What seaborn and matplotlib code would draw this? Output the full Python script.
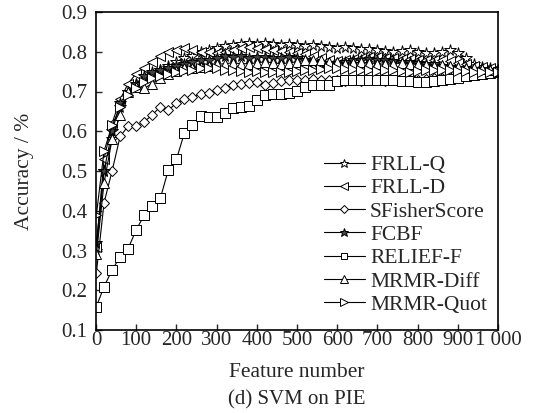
import matplotlib
matplotlib.use("Agg")
import matplotlib.pyplot as plt
import seaborn as sns
import pandas as pd

features = [1, 20, 40, 60, 80, 100, 120, 140, 160, 180, 200, 220, 240, 260, 280, 300, 320,
            340, 360, 380, 400, 420, 440, 460, 480, 500, 520, 540, 560, 580, 600, 620, 640,
            660, 680, 700, 720, 740, 760, 780, 800, 820, 840, 860, 880, 900, 920, 940, 960,
            980, 1000]

frll_q = [0.30, 0.50, 0.58, 0.66, 0.70, 0.72, 0.735, 0.745, 0.755, 0.765, 0.775, 0.785, 0.79,
          0.80, 0.805, 0.81, 0.815, 0.818, 0.82, 0.822, 0.82, 0.822, 0.82, 0.818, 0.82, 0.818,
          0.815, 0.816, 0.814, 0.813, 0.81, 0.812, 0.81, 0.808, 0.806, 0.805, 0.803, 0.80,
          0.802, 0.805, 0.80, 0.796, 0.798, 0.80, 0.804, 0.798, 0.785, 0.77, 0.762, 0.758, 0.755]

frll_d = [0.31, 0.53, 0.62, 0.68, 0.72, 0.745, 0.76, 0.775, 0.79, 0.80, 0.805, 0.81, 0.805,
          0.80, 0.80, 0.798, 0.80, 0.805, 0.81, 0.812, 0.81, 0.808, 0.805, 0.803, 0.80, 0.798,
          0.795, 0.79, 0.785, 0.78, 0.776, 0.778, 0.782, 0.785, 0.787, 0.786, 0.784, 0.785,
          0.783, 0.782, 0.78, 0.779, 0.78, 0.778, 0.776, 0.772, 0.768, 0.765, 0.762, 0.76, 0.758]

sfisher = [0.244, 0.42, 0.50, 0.587, 0.613, 0.613, 0.624, 0.641, 0.662, 0.653, 0.671, 0.68,
           0.687, 0.694, 0.695, 0.704, 0.71, 0.716, 0.72, 0.722, 0.725, 0.716, 0.722, 0.726,
           0.729, 0.73, 0.728, 0.731, 0.729, 0.728, 0.73, 0.727, 0.729, 0.726, 0.728, 0.73,
           0.727, 0.728, 0.726, 0.729, 0.73, 0.731, 0.733, 0.735, 0.737, 0.74, 0.742, 0.745,
           0.747, 0.748, 0.75]

fcbf = [0.32, 0.50, 0.60, 0.67, 0.70, 0.72, 0.74, 0.75, 0.755, 0.76, 0.765, 0.77, 0.775,
        0.778, 0.78, 0.785, 0.79, 0.788, 0.79, 0.785, 0.787, 0.786, 0.784, 0.785, 0.787,
        0.785, 0.78, 0.775, 0.772, 0.77, 0.772, 0.775, 0.778, 0.78, 0.782, 0.78, 0.778,
        0.776, 0.775, 0.773, 0.772, 0.77, 0.768, 0.765, 0.762, 0.76, 0.758, 0.757, 0.756,
        0.755, 0.755]

relief_f = [0.159, 0.209, 0.251, 0.284, 0.305, 0.352, 0.389, 0.413, 0.431, 0.503, 0.529,
            0.596, 0.616, 0.638, 0.637, 0.636, 0.646, 0.658, 0.662, 0.663, 0.678, 0.691,
            0.693, 0.693, 0.697, 0.702, 0.711, 0.716, 0.716, 0.716, 0.727, 0.728, 0.730,
            0.729, 0.728, 0.729, 0.730, 0.728, 0.727, 0.726, 0.725, 0.725, 0.727, 0.729,
            0.731, 0.734, 0.738, 0.742, 0.745, 0.747, 0.750]

mrmr_diff = [0.29, 0.47, 0.58, 0.64, 0.70, 0.712, 0.708, 0.72, 0.735, 0.745, 0.752, 0.758,
             0.76, 0.762, 0.765, 0.768, 0.77, 0.772, 0.77, 0.77, 0.772, 0.775, 0.772, 0.77,
             0.772, 0.775, 0.778, 0.78, 0.778, 0.775, 0.773, 0.77, 0.772, 0.774, 0.772, 0.77,
             0.768, 0.77, 0.772, 0.77, 0.768, 0.766, 0.765, 0.766, 0.764, 0.762, 0.76, 0.758,
             0.756, 0.754, 0.752]

mrmr_quot = [0.39, 0.55, 0.615, 0.66, 0.69, 0.71, 0.725, 0.735, 0.74, 0.745, 0.75, 0.752,
             0.755, 0.758, 0.76, 0.758, 0.755, 0.754, 0.752, 0.75, 0.752, 0.75, 0.75, 0.748,
             0.75, 0.752, 0.753, 0.755, 0.757, 0.759, 0.758, 0.757, 0.756, 0.755, 0.754,
             0.752, 0.753, 0.754, 0.752, 0.75, 0.752, 0.753, 0.755, 0.755, 0.754, 0.752,
             0.751, 0.75, 0.75, 0.749, 0.75]

series_names = ["FRLL-Q", "FRLL-D", "SFisherScore", "FCBF", "RELIEF-F", "MRMR-Diff", "MRMR-Quot"]
series_values = [frll_q, frll_d, sfisher, fcbf, relief_f, mrmr_diff, mrmr_quot]
x_ticks = [0, 100, 200, 300, 400, 500, 600, 700, 800, 900, 1000]
x_tick_labels = ["0", "100", "200", "300", "400", "500", "600", "700", "800", "900", "1 000"]
y_ticks = [0.1, 0.2, 0.3, 0.4, 0.5, 0.6, 0.7, 0.8, 0.9]
y_tick_labels = ["0.1", "0.2", "0.3", "0.4", "0.5", "0.6", "0.7", "0.8", "0.9"]

sns.set_style("ticks")
plt.rcParams["font.family"] = ["Liberation Serif", "DejaVu Serif"]

styles = {
    "FRLL-Q": dict(marker="*", mfc="white", ms=8.5),
    "FRLL-D": dict(marker="<", mfc="white", ms=7.5),
    "SFisherScore": dict(marker="D", mfc="white", ms=5.5),
    "FCBF": dict(marker="*", mfc="#444444", ms=8.5),
    "RELIEF-F": dict(marker="s", mfc="white", ms=6.5),
    "MRMR-Diff": dict(marker="^", mfc="white", ms=7.5),
    "MRMR-Quot": dict(marker=">", mfc="white", ms=7.5),
}

df = pd.DataFrame({"Feature": features * len(series_names),
                   "Accuracy": sum(series_values, []),
                   "Method": sum([[n] * len(features) for n in series_names], [])})

fig = plt.figure(figsize=(5.36, 4.13), dpi=100)
ax = fig.add_axes([96 / 536, 83 / 413, 402 / 536, 318 / 413])

for name in series_names:
    st = styles[name]
    sub = df[df["Method"] == name]
    sns.lineplot(data=sub, x="Feature", y="Accuracy", ax=ax, color="black", lw=0.8,
                 marker=st["marker"], markersize=st["ms"], markerfacecolor=st["mfc"],
                 markeredgecolor="black", markeredgewidth=0.7, label=name)

ax.set_xlim(0, 1000)
ax.set_ylim(0.1, 0.9)
ax.set_xticks(x_ticks)
ax.set_xticklabels(x_tick_labels)
ax.set_yticks(y_ticks)
ax.set_yticklabels(y_tick_labels)
ax.tick_params(direction="in", length=4, width=1, labelsize=15, pad=1)
ax.tick_params(axis="y", pad=6)
for s in ax.spines.values():
    s.set_linewidth(1.2)
    s.set_color("black")
ax.set_xlabel("Feature number", fontsize=15.5, labelpad=9)
ax.set_ylabel("Accuracy / %", fontsize=15.5, labelpad=20)

leg = ax.legend(loc="lower right", bbox_to_anchor=(1.01, 0.0), frameon=False, fontsize=15.5,
                handlelength=1.9, handletextpad=0.25, labelspacing=0.15, borderaxespad=0.3,
                numpoints=1, markerscale=0.75)

fig.text(0.5 * (96 + 498) / 536, 1 - 400 / 413, "(d) SVM on PIE", ha="center", va="center",
         fontsize=15)

fig.savefig("out.png", dpi=100)
